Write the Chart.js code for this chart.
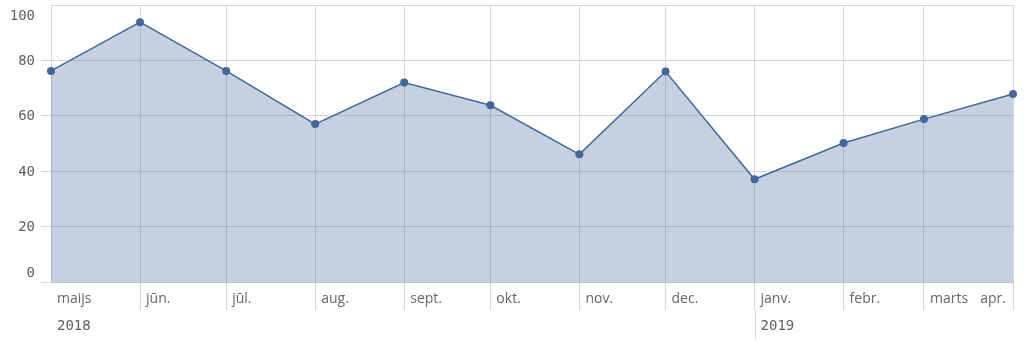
<!DOCTYPE html>
<html>
<head>
<meta charset="utf-8">
<script src="https://cdn.jsdelivr.net/npm/chart.js@4.4.0/dist/chart.umd.min.js"></script>
<style>
  html, body { margin: 0; padding: 0; background: #fff; }
  #wrap { width: 1024px; height: 348px; }
</style>
</head>
<body>
<div id="wrap"><canvas id="chart" width="1024" height="348"></canvas></div>
<script>
// month labels and the date each month starts (x axis is a time axis)
const months = ['maijs', 'jūn.', 'jūl.', 'aug.', 'sept.', 'okt.', 'nov.', 'dec.', 'janv.', 'febr.', 'marts', 'apr.'];
const monthStarts = ['2018-05-01', '2018-06-01', '2018-07-01', '2018-08-01', '2018-09-01', '2018-10-01',
  '2018-11-01', '2018-12-01', '2019-01-01', '2019-02-01', '2019-03-01', '2019-04-01'];
const values = [76.2, 93.8, 76.2, 57.0, 72.0, 63.8, 46.1, 76.0, 37.1, 50.2, 58.8, 67.9];

const years = ['2018', '2019'];
const yearStarts = ['2018-05-01', '2019-01-01'];

const yTicks = [0, 20, 40, 60, 80, 100];

// days since the first month, so the months get their real widths
const dayOf = d => (Date.parse(d) - Date.parse(monthStarts[0])) / 86400000;
const monthDays = monthStarts.map(dayOf);
const yearDays = yearStarts.map(dayOf);

const lineColor = 'rgb(64,104,156)';
const gridColor = '#d6d6d6';
const labelColor = '#5e5e5e';

// draws the axis labels (Qlik style: labels sit right of their grid line, ends kept inside)
const labelsPlugin = {
  id: 'qlikLabels',
  afterDraw(chart) {
    const ctx = chart.ctx;
    const x = chart.scales.x, y = chart.scales.y;
    const area = chart.chartArea;
    ctx.save();

    // y labels
    ctx.font = '14px "DejaVu Sans Mono"';
    ctx.fillStyle = labelColor;
    ctx.textAlign = 'right';
    ctx.textBaseline = 'middle';
    yTicks.forEach(v => {
      let py = y.getPixelForValue(v);
      py = Math.min(Math.max(py, area.top + 10), area.bottom - 10);
      ctx.fillText(String(v), 35, py + 1);
    });

    // month labels
    ctx.font = '14px "Open Sans"';
    ctx.fillStyle = '#666';
    ctx.textBaseline = 'middle';
    months.forEach((m, i) => {
      const px = x.getPixelForValue(monthDays[i]);
      const w = ctx.measureText(m).width;
      if (px + 6 + w > area.right) {
        ctx.textAlign = 'right';
        ctx.fillText(m, area.right - 7, area.bottom + 17);
      } else {
        ctx.textAlign = 'left';
        ctx.fillText(m, px + 6, area.bottom + 17);
      }
    });

    // year lines and labels
    ctx.font = '14px "DejaVu Sans Mono"';
    ctx.fillStyle = labelColor;
    ctx.textAlign = 'left';
    ctx.strokeStyle = gridColor;
    ctx.lineWidth = 1;
    years.forEach((yr, i) => {
      const px = x.getPixelForValue(yearDays[i]);
      if (i > 0) {
        ctx.beginPath();
        ctx.moveTo(Math.round(px) + 0.5, area.bottom + 28);
        ctx.lineTo(Math.round(px) + 0.5, area.bottom + 57);
        ctx.stroke();
      }
      ctx.fillText(yr, px + 6, area.bottom + 44);
    });
    ctx.restore();
  }
};

const config = {
  type: 'line',
  data: {
    datasets: [{
      data: monthDays.map((d, i) => ({ x: d, y: values[i] })),
      borderColor: lineColor,
      borderWidth: 1.5,
      backgroundColor: 'rgba(68,108,158,0.31)',
      fill: 'origin',
      tension: 0,
      pointRadius: 4,
      pointBackgroundColor: lineColor,
      pointBorderWidth: 0,
      clip: false
    }]
  },
  options: {
    responsive: false,
    animation: false,
    layout: { padding: { top: 5, right: 11, left: 0, bottom: 0 } },
    plugins: { legend: { display: false }, tooltip: { enabled: false } },
    scales: {
      x: {
        type: 'linear',
        min: monthDays[0],
        max: monthDays[monthDays.length - 1],
        afterBuildTicks: s => { s.ticks = monthDays.map(v => ({ value: v })); },
        afterFit: s => { s.height = 66; },
        ticks: { display: false },
        grid: {
          color: gridColor,
          drawTicks: true,
          tickLength: 28,
          tickColor: c => (c.index === 0 ? 'rgba(0,0,0,0)' : gridColor)
        },
        border: { display: true, color: '#c4c4c4' }
      },
      y: {
        min: 0,
        max: 100,
        afterBuildTicks: s => { s.ticks = yTicks.map(v => ({ value: v })); },
        afterFit: s => { s.width = 51; },
        ticks: { display: false },
        grid: {
          color: gridColor,
          drawTicks: true,
          tickLength: 10,
          tickColor: c => (c.tick && c.tick.value === 100 ? 'rgba(0,0,0,0)' : gridColor)
        },
        border: { display: true, color: gridColor }
      }
    }
  },
  plugins: [labelsPlugin]
};

const chart = new Chart(document.getElementById('chart'), config);
</script>
</body>
</html>
